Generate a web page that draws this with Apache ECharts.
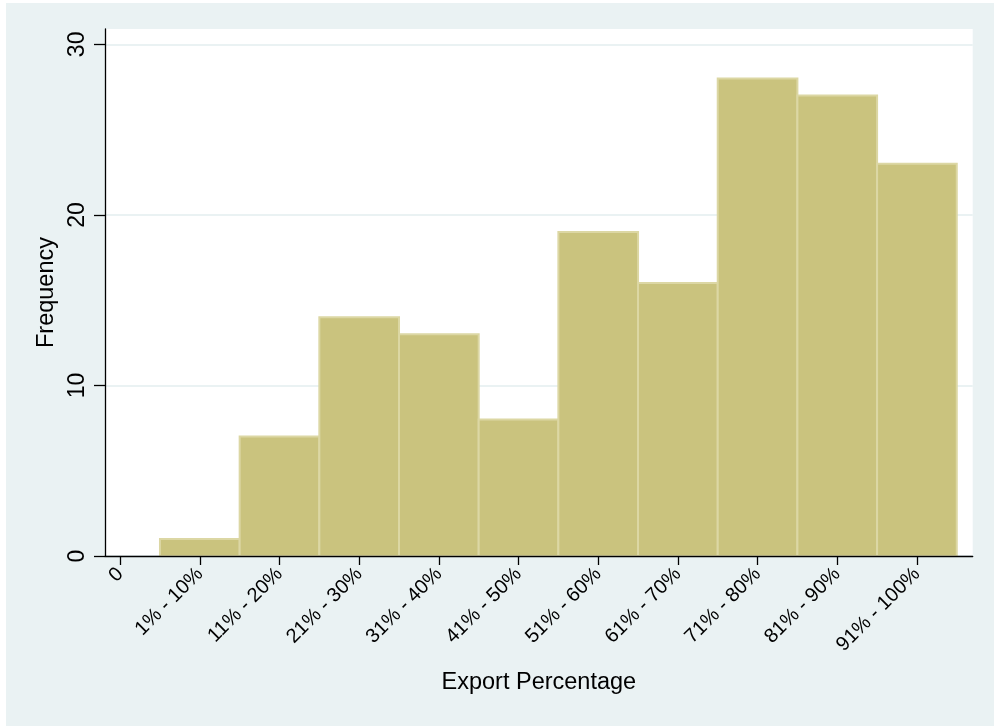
<!DOCTYPE html>
<html>
<head>
<meta charset="utf-8">
<script src="https://cdn.jsdelivr.net/npm/echarts@6/dist/echarts.min.js"></script>
<style>
html,body{margin:0;padding:0;background:#fff;}
#c{width:994px;height:726px;}
</style>
</head>
<body>
<div id="c"></div>
<script>
const categories = ["1% - 10%","11% - 20%","21% - 30%","31% - 40%","41% - 50%","51% - 60%","61% - 70%","71% - 80%","81% - 90%","91% - 100%"];
const binCenters = [1,2,3,4,5,6,7,8,9,10];
const frequency = [1,7,14,13,8,19,16,28,27,23];
const xTickValues = [0,1,2,3,4,5,6,7,8,9,10];
const xTickLabels = ["0"].concat(categories);
const yTickValues = [0,10,20,30];

const chart = echarts.init(document.getElementById('c'), null, {renderer:'canvas'});
const FONT = 'Liberation Sans, Arial, sans-serif';
chart.setOption({
  animation:false,
  backgroundColor:'#ffffff',
  graphic:[{type:'rect', z:-10, silent:true, shape:{x:6,y:3,width:988,height:723}, style:{fill:'#EAF2F3'}}],
  grid:{left:105, right:21.3, top:29, bottom:170, show:true, backgroundColor:'#ffffff', borderWidth:0},
  xAxis:{
    type:'value', min:-0.19, max:10.70, z:10,
    name:'Export Percentage', nameLocation:'middle', nameGap:115,
    nameTextStyle:{fontFamily:FONT, fontSize:23.5, color:'#000'},
    axisLine:{show:true, onZero:false, lineStyle:{color:'#000', width:1.3}},
    axisTick:{show:true, length:9, customValues:xTickValues, lineStyle:{color:'#000', width:1.3}},
    axisLabel:{customValues:xTickValues, rotate:45, margin:15, fontFamily:FONT, fontSize:20, color:'#000',
      formatter:function(v){ const i = xTickValues.indexOf(Math.round(v)); return i>=0 ? xTickLabels[i] : ''; }},
    splitLine:{show:false}
  },
  yAxis:{
    type:'value', min:0, max:30.9, z:0,
    name:'Frequency', nameLocation:'middle', nameGap:41,
    nameTextStyle:{fontFamily:FONT, fontSize:23.5, color:'#000'},
    axisLine:{show:true, onZero:false, lineStyle:{color:'#000', width:1.3}},
    axisTick:{show:true, length:11, customValues:yTickValues, lineStyle:{color:'#000', width:1.3}},
    axisLabel:{customValues:yTickValues, rotate:90, margin:16, fontFamily:FONT, fontSize:23, color:'#000'},
    splitLine:{show:true, lineStyle:{color:'#EAF2F3', width:2}}
  },
  series:[{
    type:'custom', z:2, clip:true,
    data: binCenters.map((c,i)=>[c, frequency[i]]),
    renderItem:function(params, api){
      const x = api.value(0), y = api.value(1);
      const p0 = api.coord([x-0.5, y]);
      const p1 = api.coord([x+0.5, 0]);
      return {type:'rect', shape:{x:p0[0], y:p0[1], width:p1[0]-p0[0], height:p1[1]-p0[1]},
        style:{fill:'#CAC37E', stroke:'#DCD7A4', lineWidth:2}};
    }
  }]
});
</script>
</body>
</html>
